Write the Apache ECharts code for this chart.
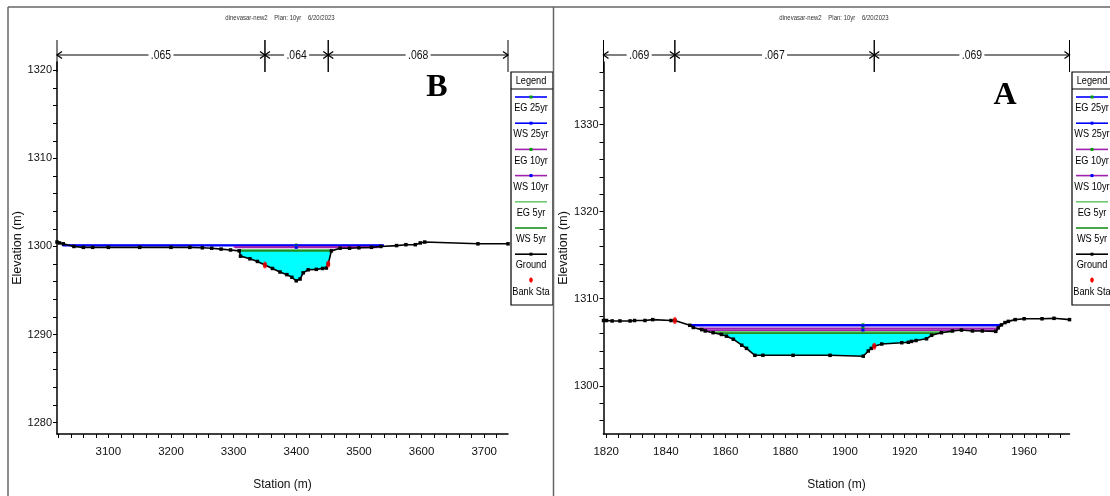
<!DOCTYPE html>
<html><head><meta charset="utf-8">
<script src="https://cdn.jsdelivr.net/npm/echarts@6/dist/echarts.min.js"></script>
<style>html,body{margin:0;padding:0;background:#fff}#c{width:1110px;height:496px}</style>
</head><body><div id="c"></div>
<script>
// ---------- Panel B (left) ----------
const bGroundSta  = [3018,3022,3028,3045,3060,3075,3100,3150,3200,3230,3250,3265,3280,3295,3309,3311,3326,3338,3350,3362,3374,3385,3393,3400,3406,3411,3419,3432,3442,3448,3451,3456,3470,3485,3500,3520,3535,3560,3575,3590,3598,3605,3690,3738];
const bGroundElev = [1300.5,1300.4,1300.3,1300.0,1299.9,1299.9,1299.9,1299.9,1299.9,1299.9,1299.85,1299.8,1299.7,1299.6,1299.5,1298.9,1298.6,1298.3,1297.9,1297.5,1297.1,1296.8,1296.5,1296.1,1296.3,1297.0,1297.35,1297.4,1297.5,1297.55,1298.0,1299.5,1299.8,1299.8,1299.85,1299.9,1300.0,1300.1,1300.2,1300.2,1300.4,1300.5,1300.3,1300.3];
const bBankSta  = [3350, 3451];
const bBankElev = [1297.9, 1298.0];
const bNBreaks  = [3018, 3350, 3451, 3738];
const bNValues  = ['.065', '.064', '.068'];
const bProfElev  = [1300.15, 1300.1, 1299.95, 1299.9, 1299.6, 1299.5];
const bProfLeft  = [3026, 3027, 3300, 3302, 3306, 3309];
const bProfRight = [3540, 3538, 3532, 3530, 3458, 3456];
const bProfMid   = 3400;
const bXLabels = [3100, 3200, 3300, 3400, 3500, 3600, 3700];
const bYLabels = [1280, 1290, 1300, 1310, 1320];

// ---------- Panel A (right) ----------
const aGroundSta  = [1819.1,1820.1,1822,1824.6,1828,1829.5,1833,1835.6,1841.7,1843,1848,1849.2,1852,1853.2,1855.8,1858.6,1860.3,1862.6,1865.4,1867,1869.8,1872.5,1882.6,1895,1906.1,1907.8,1908.8,1909.8,1912.3,1919,1921.2,1922.3,1923.8,1927.3,1929,1932.3,1936,1939,1942.7,1946,1950.5,1951.3,1952.4,1953.6,1954.7,1957,1960,1966,1970,1975.2];
const aGroundElev = [1307.5,1307.5,1307.45,1307.45,1307.45,1307.5,1307.5,1307.6,1307.5,1307.5,1306.95,1306.7,1306.45,1306.3,1306.1,1305.9,1305.7,1305.35,1304.66,1304.3,1303.5,1303.5,1303.5,1303.5,1303.4,1304.0,1304.3,1304.55,1304.8,1304.95,1305.0,1305.1,1305.2,1305.4,1305.8,1306.1,1306.3,1306.4,1306.3,1306.3,1306.25,1306.65,1307.0,1307.26,1307.4,1307.6,1307.7,1307.7,1307.75,1307.6];
const aBankSta  = [1843, 1909.8];
const aBankElev = [1307.5, 1304.55];
const aNBreaks  = [1819.1, 1843, 1909.8, 1975.2];
const aNValues  = ['.069', '.067', '.069'];
const aProfElev  = [1307.0, 1306.9, 1306.6, 1306.4, 1306.2, 1306.05];
const aProfLeft  = [1848, 1848.5, 1851, 1852.5, 1854.5, 1855.9];
const aProfRight = [1952.2, 1952, 1951.5, 1951.3, 1936, 1932.3];
const aProfMid   = 1906;
const aXLabels = [1820, 1840, 1860, 1880, 1900, 1920, 1940, 1960];
const aYLabels = [1300, 1310, 1320, 1330];

// ---------- shared ----------
const profNames  = ['EG 25yr', 'WS 25yr', 'EG 10yr', 'WS 10yr', 'EG 5yr', 'WS 5yr'];
const profColors = ['#0000ff', '#0000ff', '#a020b0', '#a020b0', '#70c870', '#1f8f1f'];
const profMarker = ['#00a000', '#0000ff', '#00a000', '#0000ff', null, null];
const headerText = 'dinevasar-new2    Plan: 10yr    6/20/2023';
const sans = "'Liberation Sans',Arial,sans-serif";
const NARROW = 0.8;

function range(a, b, step) { const r = []; for (let v = a; v <= b + 1e-9; v += step) r.push(+v.toFixed(4)); return r; }

const panels = [
  { gs: bGroundSta, ge: bGroundElev, bs: bBankSta, be: bBankElev, nb: bNBreaks, nv: bNValues,
    pe: bProfElev, pl: bProfLeft, pr: bProfRight, pm: bProfMid, xl: bXLabels, yl: bYLabels,
    xmin: 3018, xmax: 3738, ymin: 1278.7, ymax: 1320.95, xt: range(3020, 3720, 20), yt: range(1280, 1320, 2),
    grid: { left: 57, top: 62, width: 451, height: 374 }, letter: 'B', letterPos: [437, 88], legendX: 511, legendW: 42, headerX: 280 },
  { gs: aGroundSta, ge: aGroundElev, bs: aBankSta, be: aBankElev, nb: aNBreaks, nv: aNValues,
    pe: aProfElev, pl: aProfLeft, pr: aProfRight, pm: aProfMid, xl: aXLabels, yl: aYLabels,
    xmin: 1819.1, xmax: 1975.2, ymin: 1294.46, ymax: 1337.2, xt: range(1820, 1972, 4), yt: range(1296, 1336, 2),
    grid: { left: 603.5, top: 62, width: 466, height: 374 }, letter: 'A', letterPos: [1005, 96], legendX: 1072, legendW: 42, headerX: 834 }
];

const option = { animation: false, backgroundColor: '#fff', grid: [], xAxis: [], yAxis: [], series: [], graphic: [] };

function ntext(x, y, text, size, z, fill) {
  return { type: 'text', x: x, y: y, scaleX: NARROW, z: z || 21,
    style: { text: text, x: 0, y: 0, fontSize: size, fontFamily: sans, fill: fill || '#000', align: 'center', verticalAlign: 'middle' } };
}

panels.forEach((p, gi) => {
  option.grid.push(p.grid);
  option.xAxis.push({
    type: 'value', gridIndex: gi, min: p.xmin, max: p.xmax, z: 10,
    axisLine: { show: true, onZero: false, lineStyle: { color: '#000', width: 1.5 } },
    axisTick: { show: true, length: 4, customValues: p.xt, lineStyle: { color: '#000', width: 1 } },
    axisLabel: { customValues: p.xl, fontSize: 11.5, color: '#111', fontFamily: sans, margin: 12, formatter: v => String(v) },
    splitLine: { show: false },
    name: 'Station (m)', nameLocation: 'middle', nameGap: 45,
    nameTextStyle: { fontSize: 12, color: '#111', fontFamily: sans }
  });
  option.yAxis.push({
    type: 'value', gridIndex: gi, min: p.ymin, max: p.ymax, z: 10,
    axisLine: { show: true, onZero: false, lineStyle: { color: '#000', width: 1.5 } },
    axisTick: { show: true, length: 4, customValues: p.yt, lineStyle: { color: '#000', width: 1 } },
    axisLabel: { customValues: p.yl, fontSize: 11, color: '#111', fontFamily: sans, margin: 5, formatter: v => String(v) },
    splitLine: { show: false },
    name: 'Elevation (m)', nameLocation: 'middle', nameGap: 24, nameRotate: 90,
    nameTextStyle: { fontSize: 12.5, color: '#111', fontFamily: sans }
  });

  // water fill polygon below lowest water surface
  const wi = p.pe.length - 1, ws = p.pe[wi], L = p.pl[wi], R = p.pr[wi];
  const poly = [[L, ws]];
  p.gs.forEach((s, k) => { if (s > L && s < R) poly.push([s, Math.min(p.ge[k], ws)]); });
  poly.push([R, ws]);
  option.series.push({
    type: 'custom', xAxisIndex: gi, yAxisIndex: gi, z: 1, silent: true,
    data: [[L, ws]],
    renderItem: function (params, api) {
      return { type: 'polygon', shape: { points: poly.map(q => api.coord(q)) }, style: { fill: '#00ffff' } };
    }
  });

  // profile lines
  profNames.forEach((nm, i) => {
    const e = p.pe[i];
    option.series.push({
      type: 'line', name: nm, xAxisIndex: gi, yAxisIndex: gi, z: 3, silent: true,
      showAllSymbol: true, symbolSize: 3,
      data: [{ value: [p.pl[i], e], symbol: 'none' },
             { value: [p.pm, e], symbol: profMarker[i] ? 'rect' : 'none' },
             { value: [p.pr[i], e], symbol: 'none' }],
      lineStyle: { color: profColors[i], width: 1.8 },
      itemStyle: { color: profMarker[i] || profColors[i] }
    });
  });

  // ground
  option.series.push({
    type: 'line', name: 'Ground', xAxisIndex: gi, yAxisIndex: gi, z: 5, silent: true,
    data: p.gs.map((s, k) => [s, p.ge[k]]),
    showAllSymbol: true, symbol: 'rect', symbolSize: 3.5,
    lineStyle: { color: '#000', width: 1.6 }, itemStyle: { color: '#000' }
  });
  // bank stations
  option.series.push({
    type: 'scatter', name: 'Bank Sta', xAxisIndex: gi, yAxisIndex: gi, z: 6, silent: true,
    data: p.bs.map((s, k) => [s, p.be[k]]),
    symbol: 'circle', symbolSize: [4, 7], itemStyle: { color: '#ff0000' }
  });
  // Manning's n bars
  const segs = p.nv.map((v, k) => [p.nb[k], p.nb[k + 1], k]);
  option.series.push({
    type: 'custom', xAxisIndex: gi, yAxisIndex: gi, z: 8, silent: true, clip: false,
    data: segs,
    renderItem: function (params, api) {
      const cs = params.coordSys;
      const x0 = api.coord([api.value(0), p.ymin])[0];
      const x1 = api.coord([api.value(1), p.ymin])[0];
      const y = cs.y - 7;
      const st = { stroke: '#000', lineWidth: 1, fill: null };
      return {
        type: 'group', children: [
          { type: 'line', shape: { x1: x0, y1: y, x2: x1, y2: y }, style: st },
          { type: 'line', shape: { x1: x0, y1: cs.y - 22, x2: x0, y2: cs.y + 10 }, style: st },
          { type: 'line', shape: { x1: x1, y1: cs.y - 22, x2: x1, y2: cs.y + 10 }, style: st },
          { type: 'polyline', shape: { points: [[x0 + 5, y - 3.5], [x0, y], [x0 + 5, y + 3.5]] }, style: { stroke: '#000', lineWidth: 1.3, fill: null } },
          { type: 'polyline', shape: { points: [[x1 - 5, y - 3.5], [x1, y], [x1 - 5, y + 3.5]] }, style: { stroke: '#000', lineWidth: 1.3, fill: null } },
          { type: 'text', x: (x0 + x1) / 2, y: y, scaleX: NARROW,
            style: { text: p.nv[api.value(2)], x: 0, y: 0, align: 'center', verticalAlign: 'middle',
              fontSize: 13, fontFamily: sans, fill: '#111', backgroundColor: '#fff', padding: [0, 3] } }
        ]
      };
    }
  });

  // header text
  option.graphic.push(ntext(p.headerX, 17.5, headerText, 7.5, 20, '#333'));
  // big letter
  option.graphic.push({ type: 'text', x: p.letterPos[0], y: p.letterPos[1], z: 20,
    style: { text: p.letter, fontSize: 32, fontWeight: 'bold', fontFamily: "'Liberation Serif','DejaVu Serif',serif", fill: '#000', align: 'center', verticalAlign: 'middle' } });

  // legend box
  const lx = p.legendX, lw = p.legendW;
  option.graphic.push({ type: 'rect', shape: { x: lx, y: 72, width: lw, height: 233 }, z: 20,
    style: { fill: '#fff', stroke: '#000', lineWidth: 1.2 } });
  option.graphic.push({ type: 'line', shape: { x1: lx, y1: 89, x2: lx + lw, y2: 89 }, z: 21, style: { stroke: '#000', lineWidth: 1.2 } });
  option.graphic.push(ntext(lx + 20, 80.5, 'Legend', 11.5, 21));
  const entries = profNames.map((n, i) => ({ name: n, color: profColors[i], marker: profMarker[i] }))
    .concat([{ name: 'Ground', color: '#000', marker: '#000' }]);
  entries.forEach((en, i) => {
    const ly = 97 + 26.2 * i;
    option.graphic.push({ type: 'line', shape: { x1: lx + 4, y1: ly, x2: lx + 36, y2: ly }, z: 21,
      style: { stroke: en.color, lineWidth: 1.6 } });
    if (en.marker) option.graphic.push({ type: 'rect', shape: { x: lx + 20 - 1.5, y: ly - 1.5, width: 3, height: 3 }, z: 22,
      style: { fill: en.marker } });
    option.graphic.push(ntext(lx + 20, ly + 11, en.name, 11.5, 21));
  });
  option.graphic.push({ type: 'ellipse', shape: { cx: lx + 20, cy: 280, rx: 1.8, ry: 2.6 }, z: 22, style: { fill: '#ff0000' } });
  option.graphic.push(ntext(lx + 20, 292, 'Bank Sta', 11.5, 21));
});

// panel frames
option.graphic.push({ type: 'line', shape: { x1: 8, y1: 7, x2: 1110, y2: 7 }, z: 30, style: { stroke: '#666', lineWidth: 1.5 } });
option.graphic.push({ type: 'line', shape: { x1: 8, y1: 7, x2: 8, y2: 496 }, z: 30, style: { stroke: '#666', lineWidth: 1.5 } });
option.graphic.push({ type: 'line', shape: { x1: 553.5, y1: 7, x2: 553.5, y2: 496 }, z: 30, style: { stroke: '#666', lineWidth: 1.5 } });

const chart = echarts.init(document.getElementById('c'), null, { renderer: 'canvas' });
chart.setOption(option);
</script>
</body></html>
